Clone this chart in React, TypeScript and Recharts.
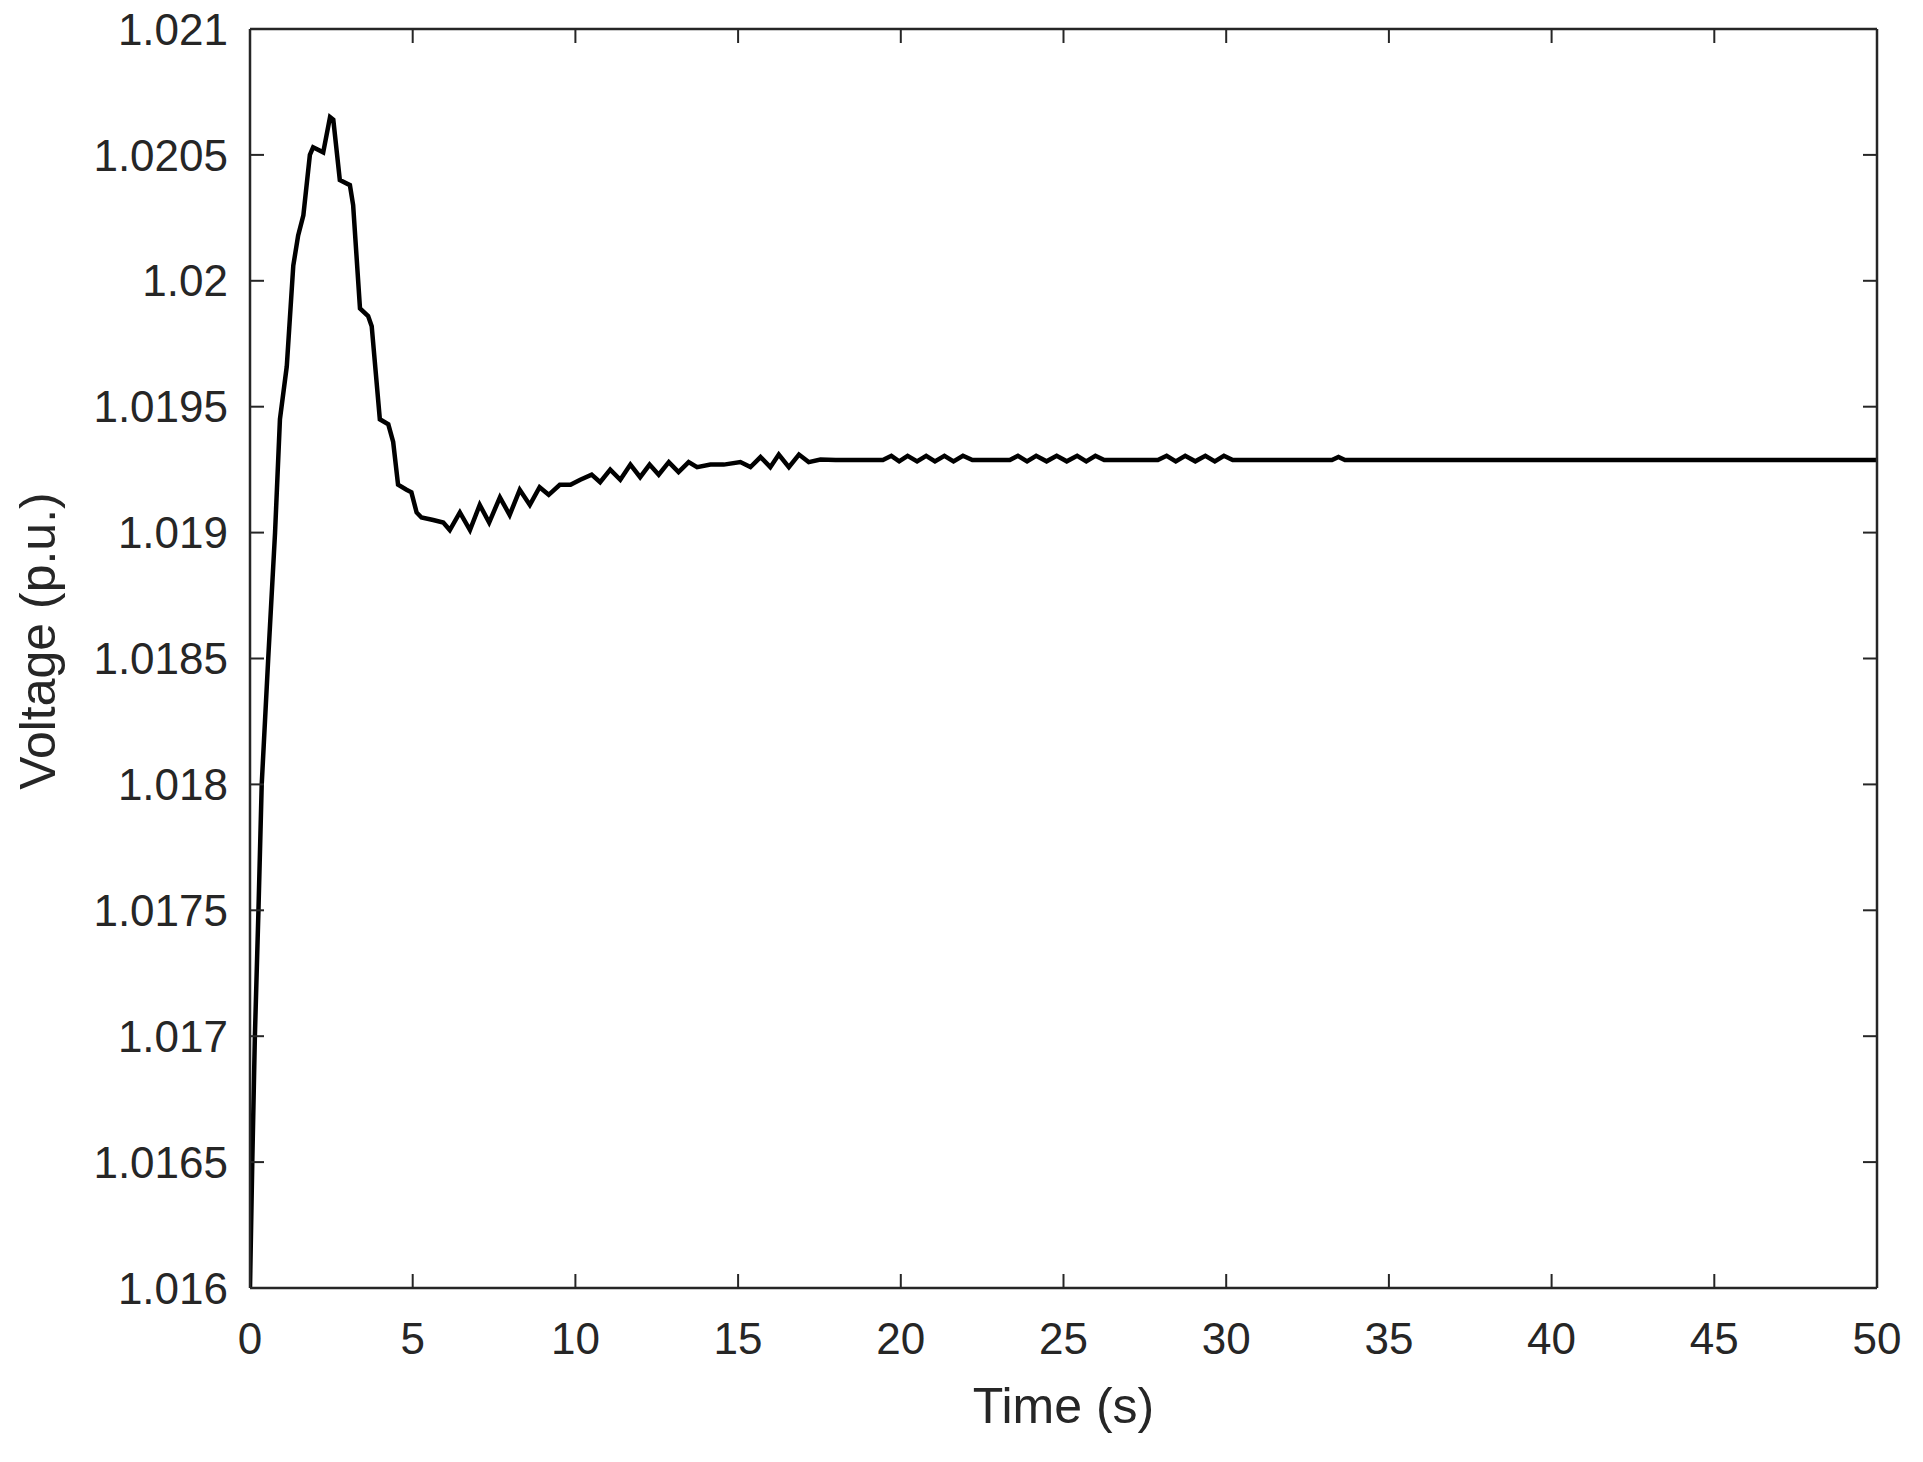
import React from 'react';
import { LineChart, Line, XAxis, YAxis, Label } from 'recharts';

// time axis (s) and bus voltage (p.u.)
const timeS = [
    0, 0.07, 0.15, 0.26, 0.36, 0.56, 0.77, 0.92, 1.13, 1.33, 1.48, 1.64, 1.84, 1.94, 2.25, 2.46, 2.56,
    2.76, 3.07, 3.17, 3.38, 3.63, 3.74, 3.99, 4.25, 4.4, 4.55, 4.81, 4.96, 5.12, 5.27, 5.63, 5.94,
    6.14, 6.45, 6.76, 7.06, 7.35, 7.68, 7.98, 8.29, 8.6, 8.9, 9.18, 9.52, 9.85, 10.15, 10.5, 10.76,
    11.07, 11.38, 11.69, 11.99, 12.28, 12.56, 12.87, 13.17, 13.48, 13.74, 14.15, 14.56, 15.07, 15.38,
    15.69, 15.99, 16.25, 16.56, 16.87, 17.17, 17.53, 18.0,
    19.45, 19.71, 19.95, 20.21, 20.5, 20.78, 21.05, 21.34, 21.62, 21.91, 22.2,
    23.35, 23.6, 23.88, 24.16, 24.48, 24.79, 25.1, 25.42, 25.7, 25.98, 26.25,
    27.9, 28.17, 28.45, 28.74, 29.05, 29.36, 29.65, 29.93, 30.2,
    33.25, 33.45, 33.65, 50,
];

const voltagePU = [
    1.016, 1.0165, 1.017, 1.0175, 1.018, 1.0185, 1.019, 1.01945, 1.01966, 1.02006, 1.02018, 1.02026,
    1.0205, 1.02053, 1.02051, 1.02065, 1.02064, 1.0204, 1.02038, 1.0203, 1.01989, 1.01986, 1.01982,
    1.01945, 1.01943, 1.01936, 1.01919, 1.01917, 1.01916, 1.01908, 1.01906, 1.01905, 1.01904,
    1.01901, 1.01908, 1.01901, 1.01911, 1.01904, 1.01914, 1.01907, 1.01917, 1.01911, 1.01918,
    1.01915, 1.01919, 1.01919, 1.01921, 1.01923, 1.0192, 1.01925, 1.01921, 1.01927, 1.01922,
    1.01927, 1.01923, 1.01928, 1.01924, 1.01928, 1.01926, 1.01927, 1.01927, 1.01928, 1.01926,
    1.0193, 1.01926, 1.01931, 1.01926, 1.01931, 1.01928, 1.01929, 1.019288,
    1.019288, 1.019305, 1.019283, 1.019305, 1.019283, 1.019305, 1.019283, 1.019305, 1.019283, 1.019305, 1.019288,
    1.019288, 1.019305, 1.019283, 1.019305, 1.019283, 1.019305, 1.019283, 1.019305, 1.019283, 1.019305, 1.019288,
    1.019288, 1.019305, 1.019283, 1.019305, 1.019283, 1.019305, 1.019283, 1.019305, 1.019288,
    1.019288, 1.0193, 1.019288, 1.019288,
];

const xTicks = [0, 5, 10, 15, 20, 25, 30, 35, 40, 45, 50];
const xTickLabels = ['0', '5', '10', '15', '20', '25', '30', '35', '40', '45', '50'];
const yTicks = [1.016, 1.0165, 1.017, 1.0175, 1.018, 1.0185, 1.019, 1.0195, 1.02, 1.0205, 1.021];
const yTickLabels = ['1.016', '1.0165', '1.017', '1.0175', '1.018', '1.0185', '1.019', '1.0195', '1.02', '1.0205', '1.021'];

const FONT = '"Liberation Sans", Arial, Helvetica, sans-serif';
const INK = '#262626';

const chartData = timeS.map((t, i) => ({ t, v: voltagePU[i] }));

// mirrored axes only draw their inward tick marks, no labels
const NoLabel = () => <g />;

const YTitle = (props: any) => {
    const { viewBox } = props;
    const x = viewBox.x + 5;
    const y = 641;
    return (
        <text x={x} y={y} transform={`rotate(-90, ${x}, ${y})`} textAnchor="middle"
            fill={INK} fontSize={50} fontFamily={FONT}>
            Voltage (p.u.)
        </text>
    );
};

const App = () => {
    const tickStyle = { fill: INK, fontSize: 44, fontFamily: FONT };
    const boxLine = { stroke: INK, strokeWidth: 2.5 };
    const tickMark = { stroke: INK, strokeWidth: 2 };

    return (
        <div style={{ width: 1923, height: 1462, margin: -8, background: '#fff' }}>
            <LineChart width={1923} height={1462} data={chartData}
                margin={{ top: 29, right: 46, bottom: 114, left: 50 }}>
                {/* labelled axes */}
                <XAxis xAxisId="main" dataKey="t" type="number" domain={[0, 50]} ticks={xTicks}
                    interval={0} allowDataOverflow height={60} tickSize={0} tickMargin={35}
                    tickLine={false} axisLine={boxLine} tick={tickStyle}
                    tickFormatter={(v: number) => xTickLabels[xTicks.indexOf(v)] ?? String(v)}>
                    <Label value="Time (s)" position="bottom" offset={39} fill={INK} fontSize={50} fontFamily={FONT} />
                </XAxis>
                <YAxis yAxisId="main" type="number" domain={[1.016, 1.021]} ticks={yTicks}
                    interval={0} allowDataOverflow width={200} tickSize={0} tickMargin={22}
                    tickLine={false} axisLine={boxLine} tick={tickStyle}
                    tickFormatter={(v: number) => yTickLabels[yTicks.indexOf(v)] ?? String(v)}>
                    <Label content={<YTitle />} />
                </YAxis>

                {/* inward tick marks and the box */}
                <XAxis xAxisId="bottomIn" dataKey="t" type="number" domain={[0, 50]} ticks={xTicks}
                    interval={0} allowDataOverflow orientation="bottom" mirror height={30}
                    tick={<NoLabel />} tickSize={14} tickLine={tickMark} axisLine={false} />
                <XAxis xAxisId="top" dataKey="t" type="number" domain={[0, 50]} ticks={xTicks}
                    interval={0} allowDataOverflow orientation="top" mirror height={30}
                    tick={<NoLabel />} tickSize={14} tickLine={tickMark} axisLine={boxLine} />
                <YAxis yAxisId="leftIn" type="number" domain={[1.016, 1.021]} ticks={yTicks}
                    interval={0} allowDataOverflow orientation="left" mirror width={30}
                    tick={<NoLabel />} tickSize={14} tickLine={tickMark} axisLine={false} />
                <YAxis yAxisId="right" type="number" domain={[1.016, 1.021]} ticks={yTicks}
                    interval={0} allowDataOverflow orientation="right" mirror width={30}
                    tick={<NoLabel />} tickSize={14} tickLine={tickMark} axisLine={boxLine} />

                <Line xAxisId="main" yAxisId="main" type="linear" dataKey="v" stroke="#000"
                    strokeWidth={4.5} dot={false} isAnimationActive={false} />
            </LineChart>
        </div>
    );
};

export default App;
